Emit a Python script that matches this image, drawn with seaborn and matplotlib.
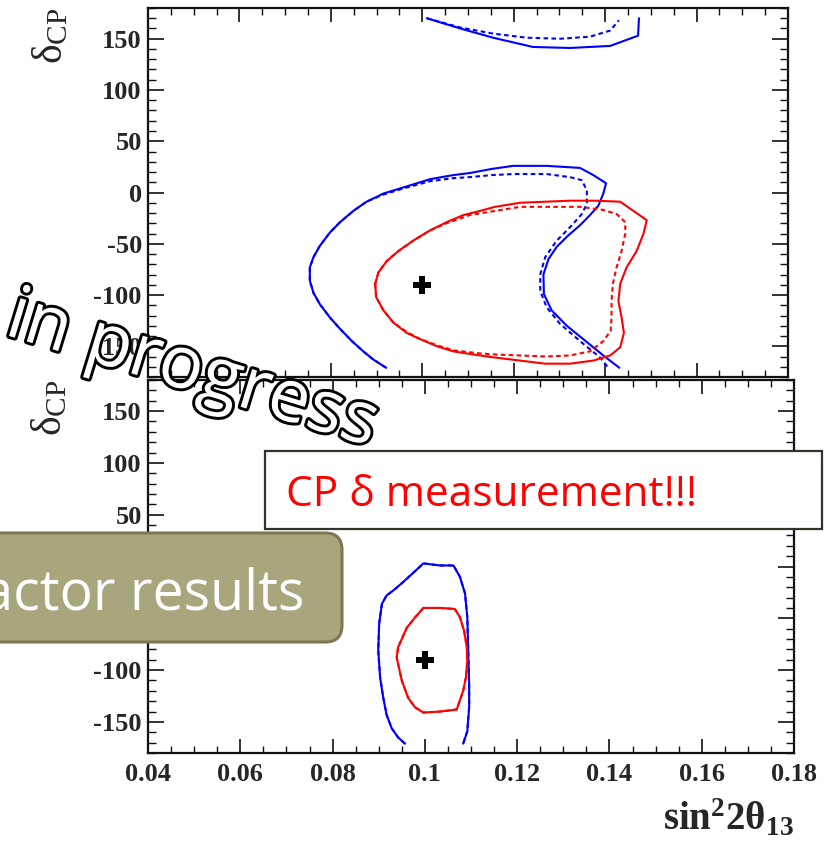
import matplotlib
matplotlib.use("Agg")
import matplotlib.pyplot as plt
import matplotlib.patheffects as pe
from matplotlib.patches import FancyBboxPatch, Rectangle
from matplotlib.ticker import MultipleLocator, FuncFormatter
import seaborn as sns

# ---------------- data ----------------
best_x = [0.1]
best_y = [-90]

# top panel: blue solid, main C-shaped contour
top_blue_x = [0.0921, 0.0893, 0.0871, 0.0846, 0.0820, 0.0798, 0.0776, 0.0762, 0.0754, 0.0754,
              0.0762, 0.0776, 0.0798, 0.0820, 0.0849, 0.0878, 0.0915, 0.0959, 0.1017, 0.1068,
              0.1104, 0.1152, 0.1199, 0.1272, 0.1345, 0.1374, 0.1402, 0.1396, 0.1385, 0.1367,
              0.1345, 0.1319, 0.1294, 0.1276, 0.1265, 0.1266, 0.1283, 0.1316, 0.1352, 0.1396,
              0.1431]
top_blue_y = [-171, -163, -155, -145, -133, -122, -109, -98, -86, -73,
              -63, -52, -39, -29, -18, -9, -1, 5, 13, 17,
              19, 23, 26, 26, 24, 17, 9, -1, -13, -22,
              -32, -42, -53, -65, -80, -99, -115, -130, -143, -159,
              -171]
# top panel: blue dashed, main contour
top_blue_d_x = [0.0921, 0.0893, 0.0871, 0.0846, 0.0820, 0.0798, 0.0776, 0.0762, 0.0754, 0.0754,
                0.0762, 0.0776, 0.0798, 0.0820, 0.0849, 0.0878, 0.0915, 0.0959, 0.1017, 0.1068,
                0.1104, 0.1152, 0.1199, 0.1272, 0.1323, 0.1349, 0.1360, 0.1360, 0.1349, 0.1323,
                0.1294, 0.1269, 0.1258, 0.1258, 0.1272, 0.1301, 0.1345, 0.1389, 0.1407]
top_blue_d_y = [-171, -163, -155, -145, -133, -122, -109, -98, -86, -73,
                -63, -52, -39, -29, -18, -9, -2, 4, 11, 14,
                15, 17, 18, 18, 15, 12, 2, -11, -21, -34,
                -47, -63, -80, -96, -112, -128, -145, -161, -171]
# top panel: blue upper pieces (wrap-around in delta)
top_blue_up_x = [0.1010, 0.1083, 0.1155, 0.1242, 0.1323, 0.1411, 0.1472, 0.1474]
top_blue_up_y = [170, 160, 151, 142, 141, 143, 153, 170]
top_blue_up_d_x = [0.1010, 0.1083, 0.1155, 0.1229, 0.1301, 0.1367, 0.1411, 0.1430]
top_blue_up_d_y = [170, 161, 155, 151, 150, 152, 158, 168]
# top panel: red solid (closed)
top_red_x = [0.0897, 0.0904, 0.0922, 0.0948, 0.0980, 0.1017, 0.1053, 0.1090, 0.1126, 0.1159,
             0.1214, 0.1269, 0.1323, 0.1378, 0.1433, 0.1462, 0.1491, 0.1484, 0.1469, 0.1447,
             0.1433, 0.1429, 0.1436, 0.1441, 0.1433, 0.1411, 0.1374, 0.1323, 0.1269, 0.1214,
             0.1159, 0.1126, 0.1068, 0.1032, 0.0995, 0.0966, 0.0937, 0.0915, 0.0899, 0.0897]
top_red_y = [-89, -78, -67, -57, -47, -37, -29, -22, -18, -14,
             -10, -9, -8, -8, -9, -18, -27, -40, -57, -73,
             -89, -106, -122, -137, -151, -159, -164, -167, -167, -164,
             -161, -159, -155, -150, -143, -137, -127, -115, -102, -89]
# top panel: red dashed (closed)
top_red_d_x = [0.0897, 0.0904, 0.0922, 0.0948, 0.0980, 0.1017, 0.1053, 0.1104, 0.1159, 0.1214,
               0.1287, 0.1345, 0.1396, 0.1425, 0.1444, 0.1444, 0.1436, 0.1425, 0.1417, 0.1414,
               0.1414, 0.1412, 0.1396, 0.1367, 0.1323, 0.1269, 0.1214, 0.1159, 0.1126, 0.1068,
               0.1032, 0.0995, 0.0966, 0.0937, 0.0915, 0.0899, 0.0897]
top_red_d_y = [-89, -78, -67, -57, -47, -37, -30, -22, -18, -14,
               -14, -14, -17, -21, -29, -40, -57, -73, -89, -106,
               -122, -135, -145, -155, -159, -160, -159, -158, -157, -154,
               -149, -143, -136, -127, -115, -102, -89]

# bottom panel: blue
bot_blue_x = [0.0957, 0.0942, 0.0928, 0.0917, 0.0910, 0.0903, 0.0899, 0.0901, 0.0907, 0.0917,
              0.0932, 0.0953, 0.0975, 0.0997, 0.1033, 0.1062, 0.1076, 0.1087, 0.1092, 0.1094,
              0.1096, 0.1096, 0.1092, 0.1083]
bot_blue_y = [-171, -165, -156, -143, -127, -107, -81, -55, -36, -28,
              -23, -15, -6, 3, 1, 1, -10, -26, -49, -81,
              -114, -136, -159, -171]
# bottom panel: red (closed)
bot_red_x = [0.0997, 0.1033, 0.1065, 0.1076, 0.1085, 0.1091, 0.1092, 0.1089, 0.1083, 0.1069,
             0.1033, 0.0997, 0.0979, 0.0964, 0.0950, 0.0939, 0.0942, 0.0961, 0.0979, 0.0997]
bot_red_y = [-40, -40, -41, -49, -62, -78, -91, -107, -120, -138,
             -140, -141, -136, -127, -110, -88, -78, -59, -49, -40]

x_major = 0.02
x_minor = 0.005
y_major = 50
y_minor = 10

# ---------------- style ----------------
sns.set_style("ticks")
plt.rcParams["font.family"] = ["Liberation Serif", "DejaVu Serif"]
plt.rcParams["axes.unicode_minus"] = False
plt.rcParams["mathtext.fontset"] = "custom"
plt.rcParams["mathtext.rm"] = "Liberation Serif"
plt.rcParams["mathtext.it"] = "Liberation Serif:italic"
plt.rcParams["mathtext.bf"] = "Liberation Serif:bold"

BLUE = "#0000FF"
RED = "#FF0000"
LW = 1.5
DASH = (0, (2.2, 1.6))

W, H = 827, 848
fig = plt.figure(figsize=(W / 100, H / 100), dpi=100)
fig.patch.set_facecolor("white")

ax1 = fig.add_axes([148 / W, 1 - 377 / H, 640 / W, 369 / H])
ax2 = fig.add_axes([148 / W, 1 - 753 / H, 646 / W, 373 / H])


def line(ax, xs, ys, color, dashed=False):
    kw = dict(linestyle=DASH) if dashed else {}
    sns.lineplot(x=xs, y=ys, sort=False, estimator=None, ax=ax, color=color,
                 linewidth=LW, **kw)


line(ax1, top_blue_d_x, top_blue_d_y, BLUE, dashed=True)
line(ax1, top_blue_x, top_blue_y, BLUE)
line(ax1, top_blue_up_d_x, top_blue_up_d_y, BLUE, dashed=True)
line(ax1, top_blue_up_x, top_blue_up_y, BLUE)
line(ax1, top_red_d_x, top_red_d_y, RED, dashed=True)
line(ax1, top_red_x, top_red_y, RED)

line(ax2, bot_blue_x, bot_blue_y, BLUE)
line(ax2, bot_blue_x, bot_blue_y, BLUE, dashed=True)
line(ax2, bot_red_x, bot_red_y, RED)
line(ax2, bot_red_x, bot_red_y, RED, dashed=True)

for ax in (ax1, ax2):
    sns.scatterplot(x=best_x, y=best_y, ax=ax, marker="P", s=150, color="black",
                    linewidth=0, zorder=5)
    ax.set_xlim(0.04, 0.18)
    ax.set_ylim(-180, 180)
    ax.xaxis.set_major_locator(MultipleLocator(x_major))
    ax.xaxis.set_minor_locator(MultipleLocator(x_minor))
    ax.yaxis.set_major_locator(MultipleLocator(y_major))
    ax.yaxis.set_minor_locator(MultipleLocator(y_minor))
    ax.xaxis.set_major_formatter(FuncFormatter(lambda v, p: "%g" % round(v, 3)))
    ax.yaxis.set_major_formatter(FuncFormatter(lambda v, p: "%d" % round(v)))
    ax.tick_params(which="both", direction="in", top=True, right=True, color="#111111")
    ax.tick_params(axis="y", which="major", length=11.5, width=1.2, pad=4.5,
                   labelsize=19)
    ax.tick_params(axis="y", which="minor", length=6, width=1.0)
    ax.tick_params(axis="x", which="major", length=10, width=1.2, pad=7, labelsize=19)
    ax.tick_params(axis="x", which="minor", length=5, width=1.0)
    for lab in ax.get_xticklabels() + ax.get_yticklabels():
        lab.set_fontweight("bold")
    for sp in ax.spines.values():
        sp.set_linewidth(1.6)
        sp.set_color("#111111")
    ax.set_xlabel("")
    ax.set_ylabel(r"$\mathrm{\delta_{CP}}$", fontsize=30, loc="top")
    ax.yaxis.set_label_coords(-0.12, 1.0)

ax1.tick_params(axis="x", labelbottom=False)
ax2.set_xlabel(r"$\mathbf{sin^{2}2\theta_{13}}$", fontsize=28, loc="right")
ax2.xaxis.set_label_coords(1.0, -0.12)

# ---------------- slide overlays ----------------
cp_box = Rectangle((265 / W, 1 - 529 / H), (822 - 265) / W, 78 / H,
                   transform=fig.transFigure, facecolor="white", edgecolor="#35322a",
                   linewidth=1.6, zorder=6)
fig.patches.append(cp_box)
fig.text(286 / W, 1 - 506 / H, "CP δ measurement!!!", color=RED, fontsize=30.5,
         family=["Open Sans", "DejaVu Sans"], ha="left", va="baseline", zorder=7)

re_box = FancyBboxPatch((-0.05, 1 - 642 / H), 342 / W + 0.05, 109 / H,
                        boxstyle="round,pad=0,rounding_size=0.02",
                        transform=fig.transFigure, facecolor="#A9A67E",
                        edgecolor="#7C7853", linewidth=2.2, zorder=6)
fig.patches.append(re_box)
fig.text(304 / W, 1 - 610 / H, "Reactor results", color="white", fontsize=40,
         family=["Open Sans", "DejaVu Sans"], ha="right", va="baseline", zorder=7)

fig.text(192 / W, 1 - 372 / H, "in progress", color="white", fontsize=53,
         family=["Open Sans", "DejaVu Sans"], rotation=-17, rotation_mode="anchor",
         ha="center", va="center", zorder=8,
         path_effects=[pe.withStroke(linewidth=4.2, foreground="black")])

fig.savefig("out.png", dpi=100)
